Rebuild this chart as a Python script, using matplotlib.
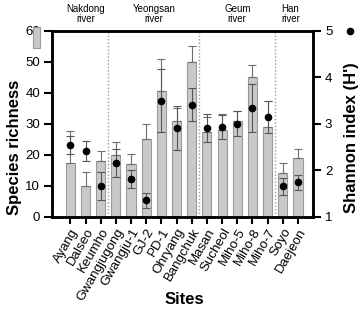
import matplotlib
matplotlib.use("Agg")
import matplotlib.pyplot as plt
from matplotlib.patches import Rectangle
from matplotlib.lines import Line2D
import matplotlib.transforms as mtransforms

plt.rcParams['font.family'] = ['Liberation Sans', 'DejaVu Sans']

sites = ["Ayang", "Dalseo", "Keumho", "Gwangjugong", "Gwangju-1", "GJ-2", "PD-1",
         "Ohryang", "Bangchuk", "Masan", "Sucheol", "Miho-5", "Miho-8", "Miho-7",
         "Soyo", "Daejeon"]
richness = [17.3, 10, 18, 20, 17, 25, 40.5, 31, 50, 27.3, 28, 31, 45, 29, 14.2, 19]
richness_err = [10.5, 4.3, 3.2, 4, 3.2, 5, 10.5, 4, 5, 5, 5, 3, 4, 8.5, 3, 3]
shannon = [2.54, 2.41, 1.66, 2.15, 1.81, 1.35, 3.50, 2.91, 3.41, 2.91, 2.93, 3.0,
           3.34, 3.15, 1.65, 1.74]
shannon_err = [0.2, 0.21, 0.31, 0.3, 0.19, 0.16, 0.68, 0.47, 0.35, 0.3, 0.25, 0.27,
               0.51, 0.35, 0.19, 0.16]
rivers = ["Nakdong\nriver", "Yeongsan\nriver", "Geum\nriver", "Han\nriver"]
river_centers = [1, 5.5, 11, 14.5]
river_bounds = [2.5, 8.5, 13.5]

fig = plt.figure(figsize=(3.62, 3.09), dpi=100)
ax = fig.add_axes([0.144, 0.299, 0.721, 0.601])
ax2 = ax.twinx()

x = list(range(len(sites)))
ax.bar(x, richness, width=0.6, color='#c9c9c9', edgecolor='#9a9a9a', linewidth=0.8, zorder=2)
ax.errorbar(x, richness, yerr=[[0] * len(x), richness_err], fmt='none', ecolor='#6e6e6e',
            elinewidth=0.8, capsize=3, capthick=0.8, zorder=3)
ax2.errorbar(x, shannon, yerr=shannon_err, fmt='o', color='black', markersize=4.5,
             ecolor='#555555', elinewidth=0.8, capsize=3, capthick=0.8, zorder=4)

for b in river_bounds:
    ax.axvline(b, color='#9a9a9a', linestyle=(0, (1, 1.5)), linewidth=1, zorder=1)

ax.set_xlim(-1.2, 16)
ax.set_ylim(0, 60)
ax.set_yticks([0, 10, 20, 30, 40, 50, 60])
ax2.set_ylim(1, 5)
ax2.set_yticks([1, 2, 3, 4, 5])
ax.set_xticks(x)
ax.set_xticklabels(sites, rotation=60, ha='right', rotation_mode='anchor', fontsize=9.5)

for a in (ax, ax2):
    for s in a.spines.values():
        s.set_linewidth(1.8)
    a.tick_params(width=1.5, length=6, labelsize=9.5, pad=2.5)
ax.tick_params(axis='x', length=5, pad=2)

fig.text(0.51, 0.03, "Sites", ha='center', va='center', fontsize=12, fontweight='bold')
fig.text(0.039, 0.523, "Species richness", rotation=90, ha='center', va='center',
         fontsize=12, fontweight='bold')
fig.text(0.97, 0.555, "Shannon index (H')", rotation=90, ha='center', va='center',
         fontsize=12, fontweight='bold')

# legend symbols next to the axis labels
fig.add_artist(Rectangle((0.091, 0.845), 0.02, 0.068, transform=fig.transFigure,
                         facecolor='#c9c9c9', edgecolor='#9a9a9a', linewidth=0.8))
fig.add_artist(Line2D([0.967], [0.9], transform=fig.transFigure, marker='o',
                      color='black', markersize=4.5))

trans = mtransforms.blended_transform_factory(ax.transData, fig.transFigure)
for name, c in zip(rivers, river_centers):
    fig.text(c, 0.955, name, transform=trans, ha='center', va='center', fontsize=7,
             linespacing=1.1)

fig.savefig("out.png", dpi=100)
